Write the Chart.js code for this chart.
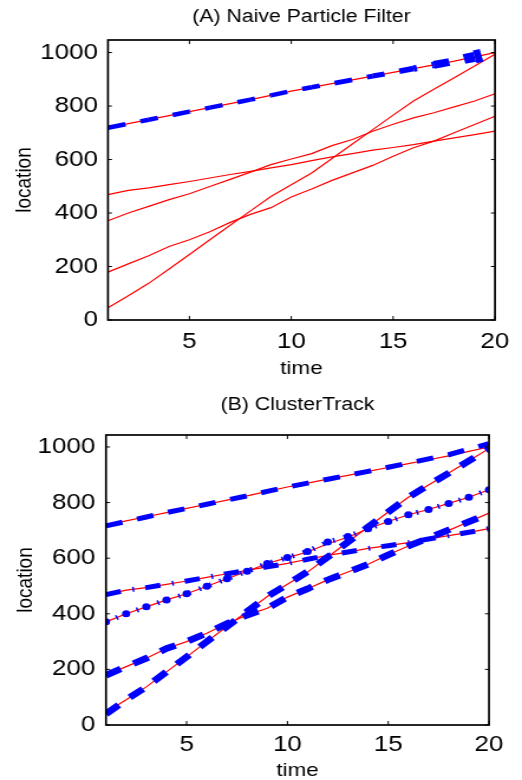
<!DOCTYPE html>
<html>
<head>
<meta charset="utf-8">
<script src="https://cdn.jsdelivr.net/npm/chart.js@4.4.1/dist/chart.umd.min.js"></script>
<style>
  html, body { margin:0; padding:0; background:#fff; overflow:hidden; }
  canvas { position:absolute; left:0; }
</style>
</head>
<body>
<canvas id="chartA" width="442" height="390" style="top:0;width:522px;height:390px"></canvas>
<canvas id="chartB" width="442" height="400" style="top:390px;width:522px;height:400px"></canvas>
<script>
var times  = [1,2,3,4,5,6,7,8,9,10,11,12,13,14,15,16,17,18,19,20];
var xTicks = [5,10,15,20];
var yTicks = [0,200,400,600,800,1000];

// true trajectories (red), same five in both panels
var particle1 = [719,734,749,764,779,794,809,824,840,856,870,884,898,912,926,940,954,968,984,1000];
var particle2 = [46,91,137,191,245,300,354,408,462,506,550,604,658,712,766,819,863,906,950,994];
var particle3 = [179,210,240,275,300,330,365,395,420,460,490,522,550,578,612,644,669,700,731,762];
var particle4 = [371,400,425,450,472,499,526,553,581,602,622,652,675,706,732,756,775,797,819,846];
var particle5 = [469,485,494,506,518,531,544,556,569,581,596,610,622,635,645,656,669,681,693,706];

// (A) naive particle filter estimate
var naiveTrack = [719,734,749,764,779,794,809,824,840,856,870,884,898,912,926,940,954,968,984,1000];

// (B) ClusterTrack estimates
var clusterTrack1 = [716,732,748,764,779,794,809,824,840,856,870,884,898,912,927,942,957,972,992,1012];
var clusterTrack2 = [40,91,137,191,245,300,354,408,462,506,552,604,658,712,766,819,863,906,950,994];
var clusterTrack3 = [179,210,240,275,300,330,365,395,420,460,490,522,550,578,612,644,672,702,731,760];
var clusterTrack4 = [371,400,425,450,472,499,526,553,581,602,624,658,678,706,732,756,775,797,819,846];
var clusterTrack5 = [469,485,494,506,518,531,544,556,569,581,596,610,622,635,645,656,669,681,693,706];

var FONT = "'Liberation Sans', Arial, Helvetica, sans-serif";
Chart.defaults.font.family = FONT;
Chart.defaults.color = '#000';

function pts(arr) {
    return arr.map(function(v, i){ return {x: times[i], y: v}; });
}

function red(arr) {
    return {data: pts(arr), borderColor:'#ff0000', borderWidth:1.2, pointRadius:0, fill:false};
}

// matlab style box with inward ticks
var boxTicks = {
    id: 'boxTicks',
    afterDraw: function(chart) {
        var ctx = chart.ctx, a = chart.chartArea, xs = chart.scales.x, ys = chart.scales.y;
        ctx.save();
        ctx.strokeStyle = '#000';
        ctx.lineWidth = 1;
        ctx.beginPath();
        xs.ticks.forEach(function(t){
            var px = xs.getPixelForValue(t.value);
            ctx.moveTo(px, a.bottom); ctx.lineTo(px, a.bottom - 4);
            ctx.moveTo(px, a.top); ctx.lineTo(px, a.top + 4);
        });
        ys.ticks.forEach(function(t){
            var py = ys.getPixelForValue(t.value);
            ctx.moveTo(a.left, py); ctx.lineTo(a.left + 3.4, py);
            ctx.moveTo(a.right, py); ctx.lineTo(a.right - 3.4, py);
        });
        ctx.stroke();
        ctx.lineWidth = 1.7;
        ctx.strokeRect(a.left, a.top, a.right - a.left, a.bottom - a.top);
        ctx.restore();
    }
};

function plain(v) { return String(v); }

function makeChart(id, titleText, datasets, g) {
    return new Chart(document.getElementById(id), {
        type: 'line',
        data: {datasets: datasets},
        plugins: [boxTicks],
        options: {
            responsive: false,
            maintainAspectRatio: false,
            devicePixelRatio: 1,
            animation: false,
            events: [],
            layout: {padding: {left:0, right:g.right, top:0, bottom:0}},
            plugins: {
                legend: {display:false},
                tooltip: {enabled:false},
                title: {
                    display: true, text: titleText, fullSize: false, color:'#000',
                    font: {size:18, weight:'normal', family:FONT},
                    padding: {top:g.titleTop, bottom:g.titleBottom}
                }
            },
            scales: {
                x: {
                    type: 'linear', min: 1, max: 20,
                    afterFit: function(s){ s.height = g.xHeight; },
                    afterBuildTicks: function(s){ s.ticks = xTicks.map(function(v){ return {value:v}; }); },
                    grid: {display:false, drawTicks:false},
                    border: {display:false},
                    ticks: {font:{size:22}, color:'#000', padding:g.xTickPad, maxRotation:0, autoSkip:false, callback:plain},
                    title: {display:true, text:'time', color:'#000', font:{size:19}, padding:{top:0, bottom:g.xTitlePad}}
                },
                y: {
                    type: 'linear', min: 0, max: g.yMax,
                    afterFit: function(s){ s.width = g.yWidth; },
                    afterBuildTicks: function(s){ s.ticks = yTicks.map(function(v){ return {value:v}; }); },
                    grid: {display:false, drawTicks:false},
                    border: {display:false},
                    ticks: {font:{size:22}, color:'#000', padding:g.yTickPad, autoSkip:false, callback:plain},
                    title: {display:true, text:'location', color:'#000', font:{size:19}, padding:{top:g.yTitlePad, bottom:0}}
                }
            }
        }
    });
}

// (A) one estimate, cloud collapses on the top particle
makeChart('chartA', '(A) Naive Particle Filter', [
    {
        data: pts(naiveTrack), borderColor:'#0000ff', borderWidth:4.5,
        borderDash:[15.2, 12.9], borderCapStyle:'butt', pointRadius:0, fill:false,
        segment: {
            borderWidth: function(c){ return 4.5 + 8.5 * Math.pow(c.p0DataIndex / 18, 8); },
            borderDashOffset: function(c){ return c.p0DataIndex * 17.68; }
        }
    },
    red(particle1), red(particle2), red(particle3), red(particle4), red(particle5)
], {right:22.9, titleTop:6.7, titleBottom:11.7, xHeight:70, xTickPad:9, xTitlePad:9.6,
    yWidth:91.4, yTickPad:8.5, yTitlePad:9.3, yMax:1047});

// (B) one track per cluster
makeChart('chartB', '(B) ClusterTrack', [
    {data: pts(clusterTrack1), borderColor:'#0000ff', borderWidth:5, borderDash:[14.4, 12.7], borderCapStyle:'butt', pointRadius:0, fill:false},
    {data: pts(clusterTrack2), borderColor:'#0000ff', borderWidth:6.5, borderDash:[14, 12], borderCapStyle:'butt', pointRadius:0, fill:false},
    {data: pts(clusterTrack3), borderColor:'#0000ff', borderWidth:6.5, borderDash:[14, 12], borderCapStyle:'butt', pointRadius:0, fill:false},
    {data: pts(clusterTrack4), borderColor:'#0000ff', borderWidth:5, borderDash:[1.5, 8], borderCapStyle:'butt',
        pointRadius:3.5, pointStyle:'circle', pointBackgroundColor:'#0000ff', pointBorderWidth:0, fill:false},
    {data: pts(clusterTrack5), borderColor:'#0000ff', borderWidth:5, borderDash:[13, 10, 1.5, 9.5], borderCapStyle:'butt', pointRadius:0, fill:false},
    red(particle1), red(particle2), red(particle3), red(particle4), red(particle5)
], {right:27.95, titleTop:3.9, titleBottom:19.5, xHeight:65, xTickPad:7, xTitlePad:7.6,
    yWidth:89.75, yTickPad:9, yTitlePad:10.2, yMax:1043});
</script>
</body>
</html>
